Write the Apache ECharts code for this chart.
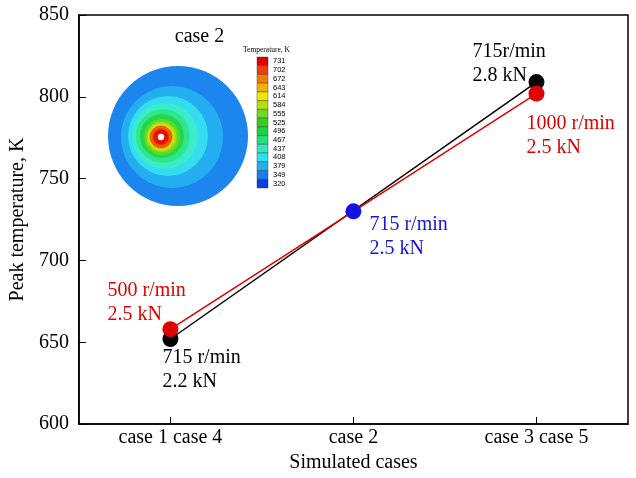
<!DOCTYPE html>
<html><head><meta charset="utf-8">
<script src="https://cdn.jsdelivr.net/npm/echarts@6/dist/echarts.min.js"></script>
<style>html,body{margin:0;padding:0;background:#fff}#c{width:636px;height:478px}</style>
</head><body><div id="c"></div>
<script>
// ---- data ----
const categories = ['case 1 case 4', 'case 2', 'case 3 case 5'];
const blackValues = [652, null, 809];
const redValues = [658, null, 802];
const blueValues = [null, 730, null];
const blackLabels = ['715 r/min\n2.2 kN', '', '715r/min\n2.8 kN'];
const redLabels = ['500 r/min\n2.5 kN', '', '1000 r/min\n2.5 kN'];
const blueLabels = ['', '715 r/min\n2.5 kN', ''];
const yMin = 600, yMax = 850, yStep = 50;
const insetTitle = 'case 2';
const colorbarTitle = 'Temperature, K';
const colorbarTicks = [731, 702, 672, 643, 614, 584, 555, 525, 496, 467, 437, 408, 379, 349, 320];

// ---- styles ----
const SERIF = '"Liberation Serif","Times New Roman",serif';
const colorbarColors = ['#e00000','#f03c10','#f57a00','#f0b400','#ece800','#b4e000','#70d820','#34d020','#20d040','#20e080','#30e8c0','#30e0f0','#20b0f0','#1480f0','#0a3ee0'];
const blackOffsets = [[-8, 31], null, [-64, -18]];
const redOffsets = [[-63, -26], null, [-10, 42]];
const blueOffsets = [null, [16, 25], null];
const rings = [
  {cx: 178, cy: 136, r: 70, c: '#1c86ee'},
  {cx: 172, cy: 137, r: 51, c: '#24adf0'},
  {cx: 168, cy: 136, r: 40, c: '#34dcf0'},
  {cx: 165, cy: 136, r: 33, c: '#3aeccc'},
  {cx: 163, cy: 136, r: 27, c: '#30e68c'},
  {cx: 162, cy: 136, r: 22, c: '#26d64a'},
  {cx: 162, cy: 137, r: 18, c: '#5cdc28'},
  {cx: 161.5, cy: 137, r: 15, c: '#a8e020'},
  {cx: 161, cy: 137, r: 13, c: '#ecd800'},
  {cx: 161, cy: 137, r: 11.5, c: '#ff8c00'},
  {cx: 161, cy: 137, r: 9.5, c: '#f04a00'},
  {cx: 161, cy: 137, r: 7.5, c: '#e41000'},
  {cx: 161, cy: 137, r: 3.2, c: '#ffffff'}
];

function mk(values, labels, offsets, color) {
  return values.map((v, i) => v == null ? null : ({
    value: v,
    label: {
      show: !!labels[i], formatter: labels[i], position: 'inside',
      align: 'left', verticalAlign: 'middle', offset: offsets[i] || [0, 0],
      color: color, fontSize: 20, lineHeight: 24, fontFamily: SERIF, opacity: 1
    }
  }));
}

const graphics = [];
rings.forEach(g => graphics.push({type: 'circle', shape: {cx: g.cx, cy: g.cy, r: g.r}, style: {fill: g.c}, silent: true}));
graphics.push({type: 'circle', shape: {cx: 161, cy: 137, r: 10.5}, style: {fill: 'none', stroke: '#7a3000', lineWidth: 0.6}, silent: true});
graphics.push({type: 'text', x: 199.5, y: 37, style: {text: insetTitle, font: '20px ' + SERIF, fill: '#000', textAlign: 'center', textVerticalAlign: 'middle'}});
graphics.push({type: 'text', x: 243, y: 50, style: {text: colorbarTitle, font: '7.5px ' + SERIF, fill: '#000', textAlign: 'left', textVerticalAlign: 'middle'}});
const cbTop = 57, cbH = 131 / colorbarTicks.length;
colorbarTicks.forEach((t, i) => {
  graphics.push({type: 'rect', shape: {x: 257, y: cbTop + i * cbH, width: 11, height: cbH}, style: {fill: colorbarColors[i], stroke: '#333', lineWidth: 0.4}, silent: true});
  graphics.push({type: 'text', x: 273, y: cbTop + (i + 0.5) * cbH, style: {text: String(t), font: '7.5px "Liberation Sans",Arial,sans-serif', fill: '#000', textAlign: 'left', textVerticalAlign: 'middle'}});
});

const chart = echarts.init(document.getElementById('c'), null, {renderer: 'canvas'});
chart.setOption({
  animation: false,
  backgroundColor: '#fff',
  grid: {left: 76, right: 8, top: 15, bottom: 48, show: true, borderColor: '#000', borderWidth: 1.5, backgroundColor: 'transparent'},
  xAxis: {
    type: 'category', data: categories, boundaryGap: true,
    axisLine: {show: true, lineStyle: {color: '#000', width: 1.5}},
    axisTick: {show: true, inside: true, alignWithLabel: true, length: 7, lineStyle: {color: '#000', width: 1}},
    axisLabel: {color: '#000', fontSize: 20, fontFamily: SERIF, margin: 4},
    name: 'Simulated cases', nameLocation: 'middle', nameGap: 27,
    nameTextStyle: {color: '#000', fontSize: 20, fontFamily: SERIF},
    splitLine: {show: false}
  },
  yAxis: {
    type: 'value', min: yMin, max: yMax, interval: yStep,
    axisLine: {show: true, lineStyle: {color: '#000', width: 1.5}},
    axisTick: {show: true, inside: true, length: 7, lineStyle: {color: '#000', width: 1}},
    axisLabel: {color: '#000', fontSize: 20, fontFamily: SERIF, margin: 10},
    name: 'Peak temperature, K', nameLocation: 'middle', nameGap: 48, nameRotate: 90,
    nameTextStyle: {color: '#000', fontSize: 20, fontFamily: SERIF},
    splitLine: {show: false}
  },
  graphic: graphics,
  series: [
    {type: 'line', data: mk(blackValues, blackLabels, blackOffsets, '#000'), connectNulls: true,
     symbol: 'circle', symbolSize: 16, itemStyle: {color: '#000'}, lineStyle: {color: '#000', width: 1.5}, z: 3},
    {type: 'line', data: mk(redValues, redLabels, redOffsets, '#e00000'), connectNulls: true,
     symbol: 'circle', symbolSize: 16, itemStyle: {color: '#e00000'}, lineStyle: {color: '#e00000', width: 1.5}, z: 4},
    {type: 'scatter', data: mk(blueValues, blueLabels, blueOffsets, '#1414e0'),
     symbol: 'circle', symbolSize: 16, itemStyle: {color: '#1414e0', opacity: 1}, z: 5}
  ]
});
</script></body></html>
